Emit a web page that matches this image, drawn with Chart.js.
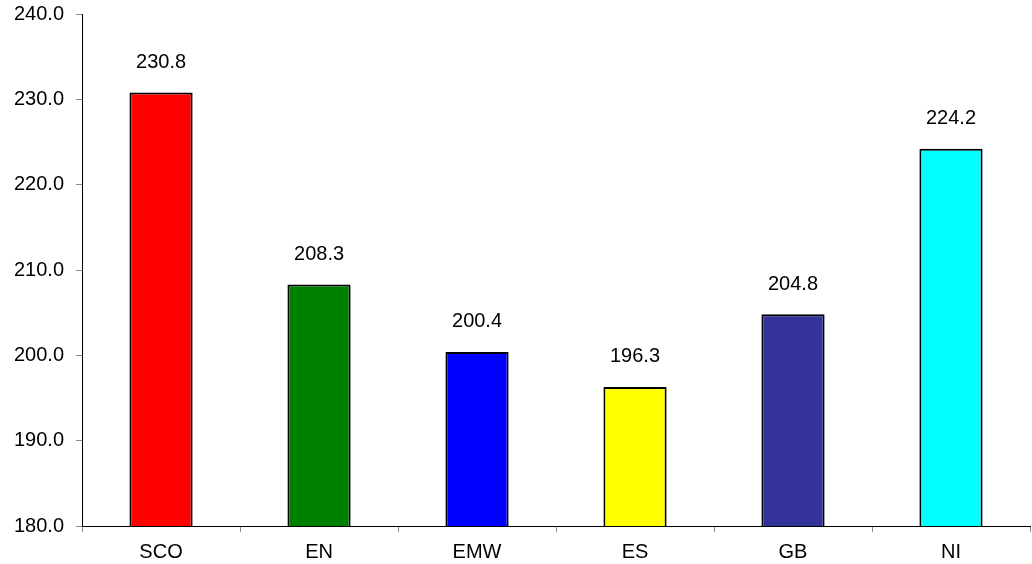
<!DOCTYPE html>
<html>
<head>
<meta charset="utf-8">
<script src="https://cdn.jsdelivr.net/npm/chart.js@4"></script>
<style>
  html, body { margin: 0; padding: 0; background: #fff; }
  #wrap { width: 1032px; height: 564px; }
</style>
</head>
<body>
<div id="wrap"><canvas id="barChart" width="1032" height="564"></canvas></div>
<script>
const regions = ["SCO", "EN", "EMW", "ES", "GB", "NI"];
const values = [230.8, 208.3, 200.4, 196.3, 204.8, 224.2];
const barColors = ["#ff0000", "#008000", "#0000ff", "#ffff00", "#333399", "#00ffff"];
const yTicks = [180, 190, 200, 210, 220, 230, 240];

const fontFamily = '"Liberation Sans", Arial, sans-serif';

// value labels above each bar
const valueLabels = {
    id: 'valueLabels',
    afterDatasetsDraw(chart) {
        const ctx = chart.ctx;
        const meta = chart.getDatasetMeta(0);
        ctx.save();
        ctx.font = '20px ' + fontFamily;
        ctx.fillStyle = '#000';
        ctx.textAlign = 'center';
        ctx.textBaseline = 'middle';
        meta.data.forEach((bar, i) => {
            ctx.fillText(values[i].toFixed(1), bar.x, bar.y - 30);
        });
        ctx.restore();
    }
};

new Chart(document.getElementById('barChart').getContext('2d'), {
    type: 'bar',
    data: {
        labels: regions,
        datasets: [{
            data: values,
            backgroundColor: barColors,
            borderColor: '#000',
            borderWidth: 2,
            borderSkipped: false,
            categoryPercentage: 1,
            barPercentage: 0.4
        }]
    },
    options: {
        responsive: false,
        animation: false,
        layout: { padding: { top: 14, right: 2, left: 2, bottom: 0 } },
        plugins: {
            legend: { display: false },
            tooltip: { enabled: false }
        },
        scales: {
            x: {
                afterFit: axis => { axis.height = 38; },
                grid: { drawOnChartArea: false, tickLength: 6, tickColor: '#888', offset: true },
                border: { color: '#000', width: 1 },
                ticks: { color: '#000', font: { family: fontFamily, size: 20 }, padding: 8 }
            },
            y: {
                min: 180,
                max: 240,
                afterBuildTicks: axis => { axis.ticks = yTicks.map(v => ({ value: v })); },
                afterFit: axis => { axis.paddingTop = 0; axis.paddingBottom = 0; },
                grid: { drawOnChartArea: false, tickLength: 6, tickColor: '#888' },
                border: { color: '#000', width: 1 },
                ticks: {
                    color: '#000',
                    font: { family: fontFamily, size: 20 },
                    padding: 12,
                    callback: v => Number(v).toFixed(1)
                }
            }
        }
    },
    plugins: [valueLabels]
});
</script>
</body>
</html>
